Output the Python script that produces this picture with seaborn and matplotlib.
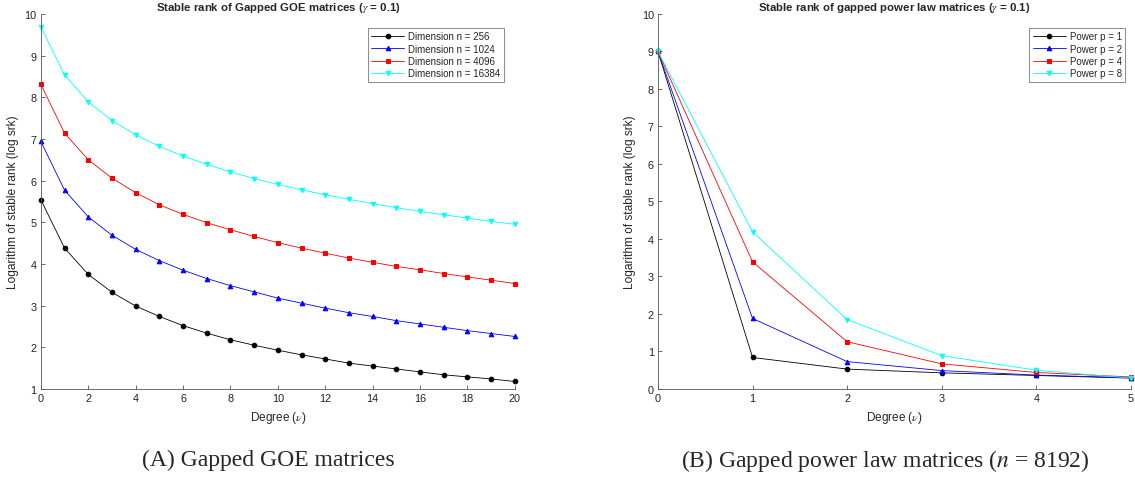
import pandas as pd
import matplotlib.pyplot as plt
import seaborn as sns

sns.set_theme(style="white")
plt.rcParams["font.family"] = ["Liberation Sans", "DejaVu Sans"]
plt.rcParams["mathtext.fontset"] = "stix"

# ==========================================
# DATA
# ==========================================

degree_goe = list(range(21))
goe_labels = [
    "Dimension n = 256",
    "Dimension n = 1024",
    "Dimension n = 4096",
    "Dimension n = 16384",
]
goe_256 = [5.54, 4.38, 3.75, 3.32, 2.99, 2.74, 2.52, 2.34, 2.18, 2.05, 1.93,
           1.82, 1.72, 1.62, 1.55, 1.48, 1.41, 1.34, 1.29, 1.24, 1.18]
goe_1024 = [6.94, 5.77, 5.13, 4.69, 4.35, 4.08, 3.85, 3.65, 3.48, 3.33, 3.18,
            3.06, 2.94, 2.83, 2.74, 2.64, 2.56, 2.48, 2.40, 2.33, 2.26]
goe_4096 = [8.31, 7.14, 6.50, 6.06, 5.71, 5.42, 5.19, 4.99, 4.82, 4.66, 4.51,
            4.38, 4.26, 4.14, 4.04, 3.94, 3.86, 3.77, 3.69, 3.61, 3.53]
goe_16384 = [9.69, 8.54, 7.89, 7.44, 7.10, 6.82, 6.59, 6.39, 6.21, 6.05, 5.91,
             5.78, 5.66, 5.55, 5.45, 5.35, 5.26, 5.18, 5.10, 5.02, 4.95]

degree_pow = [0, 1, 2, 3, 4, 5]
pow_labels = ["Power p = 1", "Power p = 2", "Power p = 4", "Power p = 8"]
pow_1 = [9.0, 0.84, 0.53, 0.43, 0.36, 0.29]
pow_2 = [9.0, 1.88, 0.73, 0.49, 0.37, 0.30]
pow_4 = [9.0, 3.39, 1.26, 0.67, 0.44, 0.32]
pow_8 = [9.0, 4.19, 1.85, 0.89, 0.50, 0.29]

colors = ["black", "blue", "red", "cyan"]
markers = ["o", "^", "s", "v"]

# ==========================================
# FIGURE
# ==========================================

fig = plt.figure(figsize=(11.35, 4.89), dpi=100)
ax1 = fig.add_axes([0.036, 0.2025, 0.4176, 0.767])
ax2 = fig.add_axes([0.5797, 0.2025, 0.4167, 0.767])


def draw_panel(ax, x, series, labels, title, xticks, yticks, ylim, anchor):
    for vals, lab, col, mk in zip(series, labels, colors, markers):
        sns.lineplot(
            x=x, y=vals, ax=ax, color=col, marker=mk, label=lab,
            linewidth=0.6, markersize=3.3, markeredgecolor=col
        )
    ax.set_xlim(x[0], x[-1])
    ax.set_ylim(*ylim)
    ax.set_xticks(xticks)
    ax.set_yticks(yticks)
    ax.set_title(title, fontsize=8.2, fontweight="bold", pad=3)
    ax.set_xlabel(r"Degree ($\nu$)", fontsize=8.5, labelpad=4)
    ax.set_ylabel("Logarithm of stable rank (log srk)", fontsize=8.6, labelpad=4)
    for side in ["top", "right"]:
        ax.spines[side].set_visible(False)
    for side in ["left", "bottom"]:
        ax.spines[side].set_color("#555555")
        ax.spines[side].set_linewidth(0.6)
    ax.tick_params(direction="in", length=3, width=0.6, colors="#555555",
                   labelcolor="#222222", labelsize=7.8, pad=3,
                   left=True, bottom=True)
    leg = ax.legend(loc="upper right", fontsize=7, frameon=True, fancybox=False,
                    edgecolor="#555555", handlelength=3.4, borderpad=0.35,
                    labelspacing=0.25, handletextpad=0.4,
                    bbox_to_anchor=anchor)
    leg.get_frame().set_linewidth(0.6)


draw_panel(
    ax1, degree_goe, [goe_256, goe_1024, goe_4096, goe_16384], goe_labels,
    r"Stable rank of Gapped GOE matrices ($\gamma$ = 0.1)",
    list(range(0, 21, 2)), list(range(1, 11)), (1, 10), (0.987, 0.976)
)

draw_panel(
    ax2, degree_pow, [pow_1, pow_2, pow_4, pow_8], pow_labels,
    r"Stable rank of gapped power law matrices ($\gamma$ = 0.1)",
    degree_pow, list(range(0, 11)), (0, 10), (0.998, 0.976)
)

for a in (ax1, ax2):
    for line in a.get_lines():
        line.set_clip_on(False)

fig.text(0.236, 0.058, "(A) Gapped GOE matrices", ha="center", va="center",
         family=["Liberation Serif", "DejaVu Serif"], fontsize=17)
fig.text(0.780, 0.058, "(B) Gapped power law matrices ($n$ = 8192)",
         ha="center", va="center",
         family=["Liberation Serif", "DejaVu Serif"], fontsize=17)

fig.savefig("out.png", dpi=100)
